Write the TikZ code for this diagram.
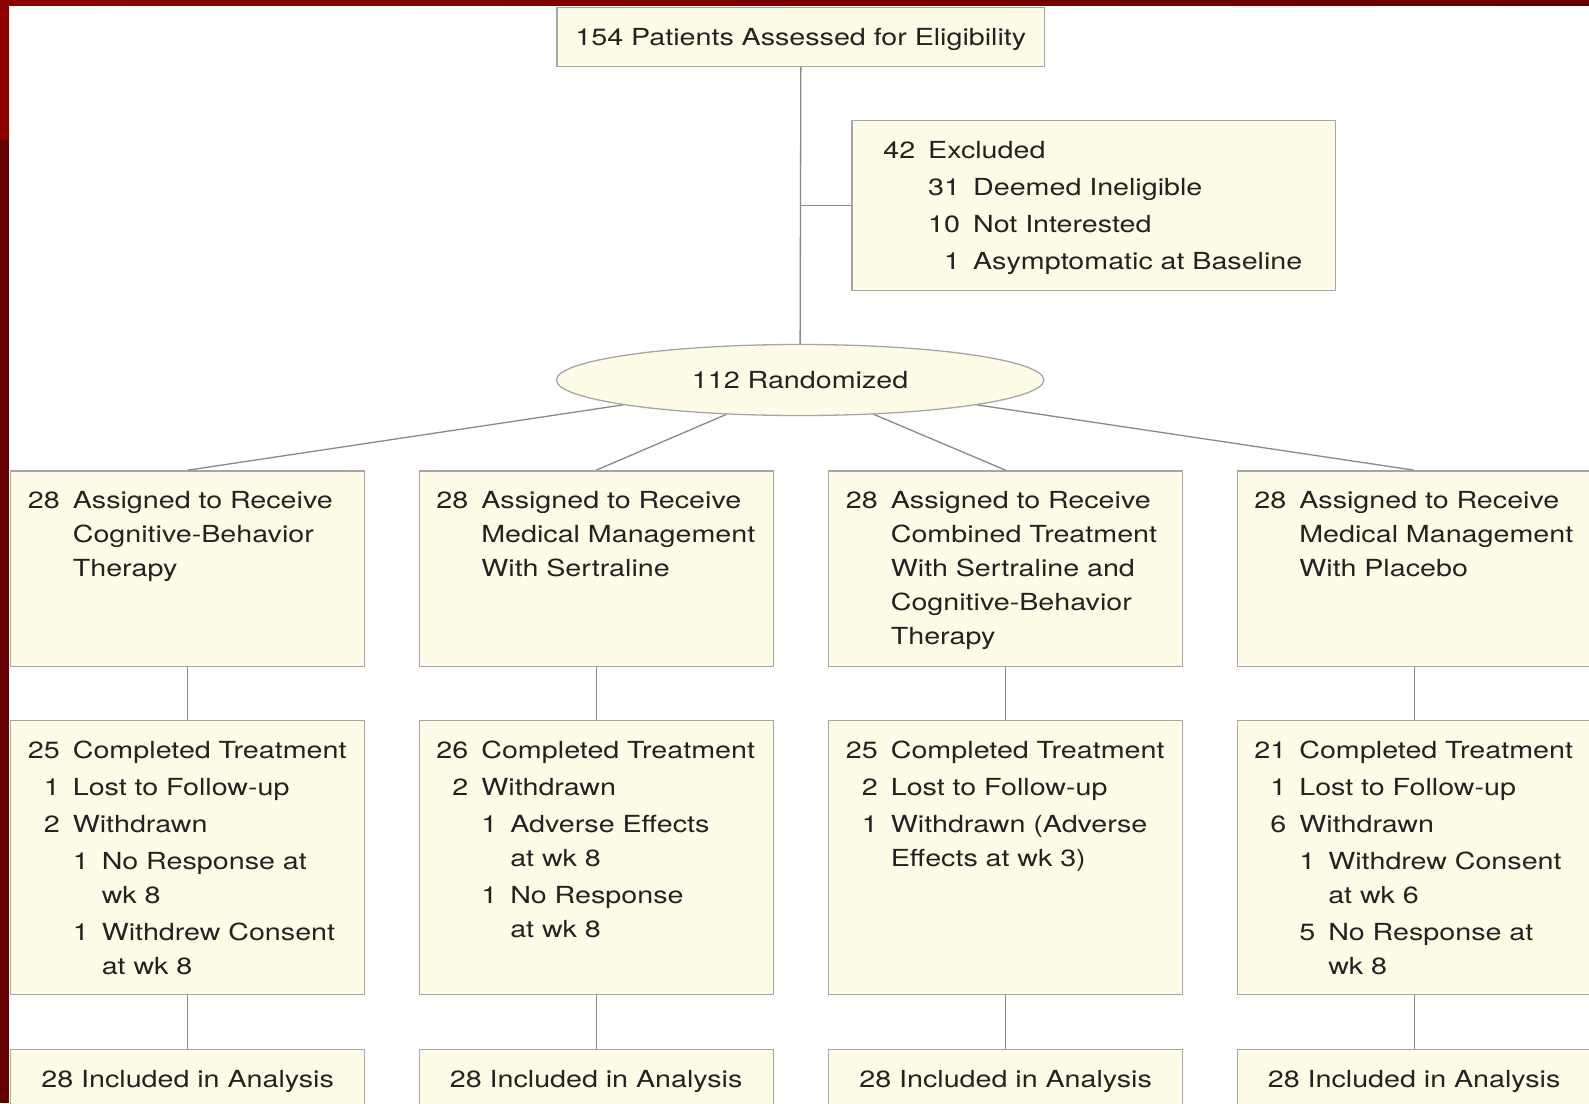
\documentclass[tikz,border=0pt]{standalone}
\usepackage{fontspec}
\setmainfont{TeX Gyre Heros}[FakeStretch=1.22]
\usetikzlibrary{shapes.geometric}
\definecolor{boxfill}{HTML}{FEFBE6}
\definecolor{boxline}{HTML}{A6A6A6}
\definecolor{linkline}{HTML}{8A8A8A}
\definecolor{txt}{HTML}{222222}
\definecolor{redA}{HTML}{8E0000}
\definecolor{redB}{HTML}{640000}
\newcommand\flowtab[1]{\begin{tabular}[t]{@{}r@{\hspace{13pt}}r@{\hspace{13pt}}l@{}}#1\end{tabular}}
\newcommand\mc[1]{\multicolumn{2}{@{}l@{}}{#1}}
\begin{document}
\begin{tikzpicture}[x=1pt,y=-1pt,
  every node/.style={font=\fontsize{23.5}{34}\selectfont, text=txt},
  box/.style={draw=boxline, fill=boxfill, line width=1.3pt, inner sep=0pt,
    anchor=north west, text width=354pt, text height=38pt, align=left},
  cbox/.style={box, align=center},
  link/.style={draw=linkline, line width=1.3pt}]
\useasboundingbox (0,0) rectangle (1589,1103);
\clip (0,0) rectangle (1589,1103);
\fill[white] (0,0) rectangle (1589,1103);
% slide border
\fill[redB] (0,0) rectangle (9,1103);
\fill[redA] (0,0) rectangle (9,140);
\shade[left color=redA, right color=redB] (0,0) rectangle (1589,5.5);

% top
\node[cbox, text width=487.6pt, text depth=20.8pt] (top) at (556.4,7.1)
  {154 Patients Assessed for Eligibility};
\node[box, text width=483.3pt, text depth=132.2pt] (excl) at (851.3,119.6)
  {\hspace*{31.4pt}\flowtab{42 & \mc{Excluded}\\[3pt]
   & 31 & Deemed Ineligible\\[3pt]
   & 10 & Not Interested\\[3pt]
   & 1 & Asymptomatic at Baseline}};
\node[ellipse, draw=boxline, fill=boxfill, line width=1.3pt, inner sep=0pt,
  minimum width=487.4pt, minimum height=71pt] (rand) at (800.1,380) {112 Randomized};

% row 1
\node[box, text depth=157.6pt] (a1) at (10,470.2)
  {\hspace*{17.3pt}\flowtab{28 & \mc{Assigned to Receive}\\ & \mc{Cognitive-Behavior}\\ & \mc{Therapy}}};
\node[box, text depth=157.6pt] (a2) at (418.5,470.2)
  {\hspace*{17.3pt}\flowtab{28 & \mc{Assigned to Receive}\\ & \mc{Medical Management}\\ & \mc{With Sertraline}}};
\node[box, text depth=157.6pt] (a3) at (828,470.2)
  {\hspace*{17.3pt}\flowtab{28 & \mc{Assigned to Receive}\\ & \mc{Combined Treatment}\\ & \mc{With Sertraline and}\\ & \mc{Cognitive-Behavior}\\ & \mc{Therapy}}};
\node[box, text depth=157.6pt] (a4) at (1236.5,470.2)
  {\hspace*{17.3pt}\flowtab{28 & \mc{Assigned to Receive}\\ & \mc{Medical Management}\\ & \mc{With Placebo}}};

% row 2
\node[box, text depth=236.6pt] (c1) at (10,719.5)
  {\hspace*{17.3pt}\flowtab{25 & \mc{Completed Treatment}\\[3pt]
   1 & \mc{Lost to Follow-up}\\[3pt]
   2 & \mc{Withdrawn}\\[3pt]
   & 1 & No Response at\\
   & & wk 8\\[3pt]
   & 1 & Withdrew Consent\\
   & & at wk 8}};
\node[box, text depth=236.6pt] (c2) at (418.5,719.5)
  {\hspace*{17.3pt}\flowtab{26 & \mc{Completed Treatment}\\[3pt]
   2 & \mc{Withdrawn}\\[3pt]
   & 1 & Adverse Effects\\
   & & at wk 8\\[3pt]
   & 1 & No Response\\
   & & at wk 8}};
\node[box, text depth=236.6pt] (c3) at (828,719.5)
  {\hspace*{17.3pt}\flowtab{25 & \mc{Completed Treatment}\\[3pt]
   2 & \mc{Lost to Follow-up}\\[3pt]
   1 & \mc{Withdrawn (Adverse}\\
   & \mc{Effects at wk 3)}}};
\node[box, text depth=236.6pt] (c4) at (1236.5,719.5)
  {\hspace*{17.3pt}\flowtab{21 & \mc{Completed Treatment}\\[3pt]
   1 & \mc{Lost to Follow-up}\\[3pt]
   6 & \mc{Withdrawn}\\[3pt]
   & 1 & Withdrew Consent\\
   & & at wk 6\\[3pt]
   & 5 & No Response at\\
   & & wk 8}};

% row 3
\node[cbox, text depth=42pt] (i1) at (10,1048.9) {28 Included in Analysis};
\node[cbox, text depth=42pt] (i2) at (418.5,1048.9) {28 Included in Analysis};
\node[cbox, text depth=42pt] (i3) at (828,1048.9) {28 Included in Analysis};
\node[cbox, text depth=42pt] (i4) at (1236.5,1048.9) {28 Included in Analysis};

% connectors
\draw[link] (top.south) -- (rand.north);
\draw[link] (excl.west) -- (excl.west -| top.south);
\draw[link] (rand.188) -- (a1.north);
\draw[link] (rand.205) -- (a2.north);
\draw[link] (rand.335) -- (a3.north);
\draw[link] (rand.352) -- (a4.north);
\foreach \k in {1,2,3,4}{
  \draw[link] (a\k.south) -- (c\k.north);
  \draw[link] (c\k.south) -- (i\k.north);
}
\end{tikzpicture}
\end{document}
